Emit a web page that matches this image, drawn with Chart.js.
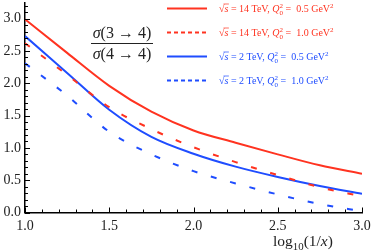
<!DOCTYPE html>
<html>
<head>
<meta charset="utf-8">
<script src="https://cdn.jsdelivr.net/npm/chart.js@4.4.1/dist/chart.umd.min.js"></script>
<style>
  html, body { margin: 0; padding: 0; background: #fff; }
  #wrap { width: 374px; height: 252px; position: relative; }
</style>
</head>
<body>
<div id="wrap"><canvas id="chart"></canvas></div>
<script>
// data
var xValues = [1.0, 1.25, 1.5, 1.75, 2.0, 2.25, 2.5, 2.75, 3.0];
var tev14_q05 = [2.99, 2.47, 1.96, 1.56, 1.27, 1.08, 0.90, 0.73, 0.60];
var tev14_q10 = [2.62, 2.13, 1.63, 1.29, 1.01, 0.78, 0.58, 0.39, 0.25];
var tev2_q05 = [2.73, 2.16, 1.59, 1.17, 0.91, 0.71, 0.55, 0.41, 0.29];
var tev2_q10 = [2.31, 1.81, 1.25, 0.90, 0.64, 0.45, 0.28, 0.13, 0.02];
var seriesLabels = [
  ["14", "0.5"], ["14", "1.0"], ["2", "0.5"], ["2", "1.0"]
];
var xTicks = [1.0, 1.5, 2.0, 2.5, 3.0];
var yTicks = [0.0, 0.5, 1.0, 1.5, 2.0, 2.5, 3.0];

var RED = "#ff3320";
var BLUE = "#1f4dff";
var SERIF = "'Liberation Serif', 'DejaVu Serif', serif";

function pts(ys) {
  return xValues.map(function(x, i) { return {x: x, y: ys[i]}; });
}

function makeSet(label, ys, color, dash) {
  return {
    label: label,
    data: pts(ys),
    borderColor: color,
    backgroundColor: color,
    borderWidth: 2,
    borderDash: dash,
    pointRadius: 0,
    cubicInterpolationMode: "monotone",
    fill: false
  };
}

// write a run of text pieces, returns end x
function drawRuns(ctx, x, y, size, color, runs) {
  ctx.fillStyle = color;
  ctx.textBaseline = "alphabetic";
  ctx.textAlign = "left";
  runs.forEach(function(r) {
    var s = size * (r.scale || 1);
    ctx.font = (r.italic ? "italic " : "") + s + "px " + SERIF;
    ctx.fillText(r.t, x, y + (r.dy || 0));
    if (!r.stack) x += ctx.measureText(r.t).width;
  });
  return x;
}

// centered version
function runsWidth(ctx, size, runs) {
  var w = 0;
  runs.forEach(function(r) {
    ctx.font = (r.italic ? "italic " : "") + size * (r.scale || 1) + "px " + SERIF;
    if (!r.stack) w += ctx.measureText(r.t).width;
  });
  return w;
}

var inwardTicks = {
  id: "inwardTicks",
  afterDraw: function(chart) {
    var ctx = chart.ctx;
    var xs = chart.scales.x, ys = chart.scales.y;
    var a = chart.chartArea;
    ctx.save();
    ctx.strokeStyle = "#000";
    ctx.lineWidth = 1;
    // y ticks, minor every 0.1
    for (var i = 0; i <= 32; i++) {
      var v = i / 10;
      var py = Math.round(ys.getPixelForValue(v)) + 0.5;
      var len = (i % 5 === 0) ? 5 : 3;
      ctx.beginPath(); ctx.moveTo(a.left, py); ctx.lineTo(a.left + len, py); ctx.stroke();
    }
    for (var j = 10; j <= 30; j++) {
      var px = Math.round(xs.getPixelForValue(j / 10)) + 0.5;
      var l2 = (j % 5 === 0) ? 5 : 3;
      ctx.beginPath(); ctx.moveTo(px, a.bottom); ctx.lineTo(px, a.bottom - l2); ctx.stroke();
    }
    ctx.restore();
  }
};

var annotations = {
  id: "annotations",
  afterDraw: function(chart) {
    var ctx = chart.ctx;
    ctx.save();

    // fraction label
    var cx = 122;
    ["3", "4"].forEach(function(n, k) {
      var runs = [{t: "\u03c3", italic: true}, {t: "(" + n + " \u2192 4)"}];
      var w = runsWidth(ctx, 16, runs);
      drawRuns(ctx, cx - w / 2, k === 0 ? 38 : 58.5, 16, "#222", runs);
    });
    ctx.strokeStyle = "#222";
    ctx.lineWidth = 1;
    ctx.beginPath(); ctx.moveTo(91, 43.5); ctx.lineTo(153, 43.5); ctx.stroke();

    // axis title log10(1/x)
    drawRuns(ctx, 273, 246, 15.5, "#222", [
      {t: "log"}, {t: "10", scale: 0.7, dy: 4}, {t: "(1/"}, {t: "x", italic: true}, {t: ")"}
    ]);

    // legend
    var rowY = [8.5, 32.5, 56.5, 80.5];
    chart.data.datasets.forEach(function(ds, k) {
      var y = rowY[k];
      ctx.strokeStyle = ds.borderColor;
      ctx.lineWidth = 2;
      ctx.setLineDash(ds.borderDash.length ? [4, 3] : []);
      ctx.beginPath(); ctx.moveTo(167, y); ctx.lineTo(207, y); ctx.stroke();
      ctx.setLineDash([]);
      var lab = seriesLabels[k];
      var base = y + 3.5;
      var x = drawRuns(ctx, 219, base, 10, ds.borderColor, [{t: "\u221a"}]);
      var sx = x;
      x = drawRuns(ctx, x, base, 10, ds.borderColor, [{t: "s", italic: true}]);
      ctx.lineWidth = 0.7;
      ctx.beginPath(); ctx.moveTo(sx - 1, base - 8); ctx.lineTo(x + 0.5, base - 8); ctx.stroke();
      x = drawRuns(ctx, x, base, 10, ds.borderColor, [
        {t: " = " + lab[0] + " TeV, "}, {t: "Q", italic: true},
        {t: "2", scale: 0.7, dy: -4, stack: true}, {t: "0", scale: 0.7, dy: 3},
        {t: " =  " + lab[1] + " GeV"}, {t: "2", scale: 0.7, dy: -4}
      ]);
    });
    ctx.restore();
  }
};

var ctx = document.getElementById("chart").getContext("2d");
var chart = new Chart(ctx, {
  type: "line",
  data: {
    datasets: [
      makeSet("14 TeV, 0.5", tev14_q05, RED, []),
      makeSet("14 TeV, 1.0", tev14_q10, RED, [6, 14]),
      makeSet("2 TeV, 0.5", tev2_q05, BLUE, []),
      makeSet("2 TeV, 1.0", tev2_q10, BLUE, [6, 14])
    ]
  },
  options: {
    responsive: true,
    maintainAspectRatio: false,
    animation: false,
    layout: { padding: { top: 2.5, right: 12, bottom: 0, left: 0 } },
    plugins: { legend: { display: false }, tooltip: { enabled: false } },
    scales: {
      x: {
        type: "linear",
        min: 1, max: 3,
        afterBuildTicks: function(s) { s.ticks = xTicks.map(function(v) { return {value: v}; }); },
        afterFit: function(s) { s.height = 39.5; s.paddingLeft = 0; s.paddingRight = 0; },
        grid: { display: true, drawOnChartArea: false, drawTicks: false },
        border: { display: true, color: "#000", width: 1.5 },
        ticks: {
          padding: 5, color: "#222",
          font: { family: SERIF, size: 14 },
          callback: function(v) { return v.toFixed(1); }
        }
      },
      y: {
        type: "linear",
        min: 0, max: 3.25,
        afterBuildTicks: function(s) { s.ticks = yTicks.map(function(v) { return {value: v}; }); },
        afterFit: function(s) { s.width = 25; s.paddingTop = 0; s.paddingBottom = 0; },
        grid: { display: true, drawOnChartArea: false, drawTicks: false },
        border: { display: true, color: "#000", width: 1.5 },
        ticks: {
          padding: 4, color: "#222",
          font: { family: SERIF, size: 14 },
          callback: function(v) { return v.toFixed(1); }
        }
      }
    }
  },
  plugins: [inwardTicks, annotations]
});
</script>
</body>
</html>
